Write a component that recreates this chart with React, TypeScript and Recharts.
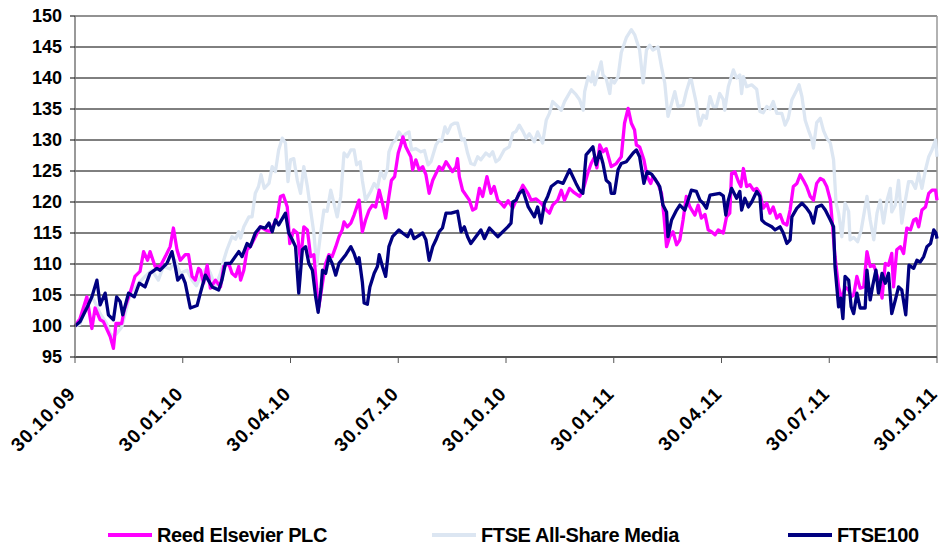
import { LineChart, Line, XAxis, YAxis, CartesianGrid, ReferenceLine } from 'recharts';

// x position is in months from 30.10.09 (0) to 30.10.11 (24)
const tickMonths = [0, 3, 6, 9, 12, 15, 18, 21, 24];
const tickLabels = ['30.10.09', '30.01.10', '30.04.10', '30.07.10', '30.10.10', '30.01.11', '30.04.11', '30.07.11', '30.10.11'];
const yTicks = [95, 100, 105, 110, 115, 120, 125, 130, 135, 140, 145, 150];

const seriesNames = ['Reed Elsevier PLC', 'FTSE All-Share Media', 'FTSE100'];
const seriesColors = ['#ff00ff', '#dce6f2', '#000080'];

const reed: [number, number][] = [
  [0, 100], [0.14, 101.2], [0.33, 104.7], [0.47, 99.6], [0.56, 102.9], [0.7, 101], [0.79, 100.7], [0.98, 98.3],
  [1.07, 96.4], [1.14, 100.4], [1.3, 100.4], [1.37, 102.6], [1.54, 105.5], [1.67, 108], [1.81, 108.8], [1.91, 112],
  [2.02, 110.6], [2.09, 112], [2.23, 109.6], [2.37, 109.6], [2.54, 111.5], [2.65, 112.8], [2.74, 115.8], [2.84, 112.3],
  [2.93, 110.6], [3.07, 111.5], [3.16, 111.5], [3.26, 108], [3.35, 107.4], [3.44, 109.3], [3.49, 109], [3.58, 106.9],
  [3.68, 109.8], [3.77, 106.1], [3.91, 107.4], [4.05, 106.3], [4.14, 109.6], [4.28, 110.1], [4.37, 108.5], [4.47, 108],
  [4.56, 109.6], [4.61, 107.4], [4.7, 109], [4.79, 112.3], [4.88, 112.8], [5.02, 114.4], [5.16, 116], [5.3, 115.5],
  [5.44, 115.2], [5.63, 117.6], [5.72, 120.9], [5.8, 121.1], [5.91, 119.2], [5.98, 113.3], [6.09, 115.5], [6.19, 115],
  [6.28, 110.4], [6.37, 116], [6.47, 115.5], [6.56, 111.2], [6.65, 111.5], [6.74, 105.3], [6.79, 103.1], [6.89, 106.9],
  [6.98, 110.1], [7.07, 111.5], [7.16, 111.2], [7.26, 112.8], [7.35, 114.4], [7.44, 115.5], [7.49, 116.8], [7.58, 116],
  [7.68, 116.6], [7.77, 117.9], [7.91, 120.3], [8.0, 115.2], [8.09, 117.1], [8.19, 118.7], [8.28, 119.5], [8.37, 119.2],
  [8.47, 121.9], [8.56, 119.8], [8.65, 117.4], [8.74, 120.9], [8.81, 123.5], [8.9, 124.1], [9.0, 127.9], [9.07, 129.2],
  [9.13, 130.5], [9.21, 128.9], [9.35, 127.3], [9.4, 125.2], [9.49, 126.8], [9.58, 125.2], [9.68, 125.7], [9.77, 124.4],
  [9.86, 121.4], [9.96, 123.5], [10.05, 124.6], [10.14, 125.7], [10.23, 125.2], [10.33, 126.5], [10.42, 125.7], [10.51, 124.9],
  [10.61, 125.7], [10.65, 127], [10.7, 124.1], [10.79, 121.9], [10.98, 120.3], [11.07, 118.7], [11.16, 119], [11.26, 122.2],
  [11.35, 120.9], [11.47, 124.1], [11.58, 121.4], [11.67, 122.5], [11.77, 120.3], [11.86, 119.8], [11.95, 119.2], [12.06, 120.2],
  [12.19, 119], [12.33, 120.9], [12.47, 122.7], [12.61, 121.4], [12.7, 120.3], [12.84, 120.5], [12.98, 119.8], [13.12, 118.7],
  [13.21, 118.2], [13.3, 119.5], [13.44, 120.3], [13.54, 121.9], [13.63, 120.3], [13.77, 122.2], [13.9, 121.5], [14.05, 120.9],
  [14.15, 122], [14.29, 124.9], [14.37, 126.2], [14.47, 127.3], [14.53, 125.5], [14.61, 129.2], [14.7, 128.1], [14.79, 128.6],
  [14.93, 125.7], [15.07, 126.2], [15.21, 127.3], [15.3, 132.7], [15.4, 135.1], [15.49, 132.7], [15.58, 131.6], [15.63, 129.2],
  [15.72, 128.9], [15.84, 126.8], [15.93, 124.1], [16.03, 123], [16.09, 124.1], [16.23, 123], [16.33, 121.4], [16.4, 117.6],
  [16.47, 112.8], [16.56, 114.4], [16.65, 115.2], [16.75, 113.1], [16.84, 113.9], [16.93, 117.1], [17.02, 120.9], [17.12, 119.2],
  [17.26, 117.9], [17.35, 119.5], [17.44, 117.4], [17.54, 118], [17.63, 115.5], [17.72, 115.2], [17.82, 114.7], [17.91, 115.5],
  [18.05, 115], [18.14, 117.6], [18.23, 118.2], [18.28, 124.6], [18.37, 124.9], [18.47, 123.3], [18.54, 122.5], [18.61, 125.4],
  [18.7, 122.5], [18.79, 122.8], [18.89, 121.9], [18.98, 122.2], [19.07, 121.4], [19.16, 119], [19.26, 119.8], [19.35, 118.2],
  [19.44, 119.2], [19.54, 117.4], [19.63, 118], [19.72, 116.6], [19.82, 116.3], [19.91, 118.7], [20.0, 122.5], [20.1, 123],
  [20.19, 124.4], [20.28, 123.5], [20.37, 122.5], [20.47, 120.9], [20.56, 120.3], [20.65, 123], [20.75, 123.8], [20.84, 123.5],
  [20.93, 122.5], [21.03, 120.3], [21.07, 117.6], [21.16, 111.2], [21.26, 106.3], [21.35, 104.2], [21.44, 106.3], [21.54, 105.8],
  [21.61, 104.7], [21.68, 105], [21.77, 108], [21.86, 106.1], [21.96, 106.3], [22.05, 112], [22.14, 109.6], [22.24, 109.8],
  [22.33, 108.2], [22.42, 106.3], [22.47, 104.5], [22.56, 110.1], [22.65, 109.8], [22.74, 111.7], [22.79, 106.3], [22.88, 112.3],
  [22.98, 112.8], [23.07, 111.7], [23.16, 115.8], [23.26, 115.5], [23.35, 117.1], [23.42, 117.3], [23.49, 116], [23.58, 118.7],
  [23.68, 119.2], [23.77, 121.4], [23.86, 121.9], [23.96, 121.9], [24, 120.3],
];

const media: [number, number][] = [
  [0, 100], [0.14, 100.3], [0.33, 103.7], [0.47, 104.7], [0.56, 103.8], [0.7, 102], [0.88, 100.4], [0.98, 98.8],
  [1.07, 98.3], [1.16, 98.8], [1.3, 99.8], [1.4, 102], [1.54, 105.3], [1.77, 106.9], [1.95, 108], [2.14, 109],
  [2.32, 107.4], [2.46, 109.6], [2.65, 109.2], [2.79, 110.6], [2.93, 108.5], [3.12, 109], [3.26, 107.4], [3.38, 106.5],
  [3.54, 108.5], [3.68, 109.5], [3.77, 108.5], [3.91, 106.3], [4.05, 108.5], [4.14, 110.6], [4.23, 112.3], [4.37, 114.4],
  [4.47, 114], [4.56, 115.2], [4.61, 114.2], [4.7, 116], [4.84, 117.6], [4.93, 117.6], [5.02, 121.4], [5.11, 122.5],
  [5.18, 124.4], [5.27, 122.2], [5.4, 123], [5.49, 125.7], [5.58, 124.9], [5.67, 128.4], [5.77, 130.3], [5.86, 129.5],
  [5.93, 123.3], [6.0, 126.8], [6.09, 127], [6.19, 123.5], [6.28, 121.4], [6.37, 125.7], [6.47, 122.5], [6.56, 118.7],
  [6.65, 115], [6.73, 109.8], [6.84, 115], [6.93, 118.7], [7.02, 118.5], [7.12, 121.9], [7.21, 119.8], [7.3, 117.6],
  [7.4, 120.9], [7.49, 127.9], [7.58, 127.3], [7.68, 128.4], [7.77, 128.4], [7.84, 126], [7.94, 126.5], [8.0, 123.5],
  [8.09, 120.3], [8.23, 121.7], [8.33, 123], [8.42, 122.2], [8.51, 124.9], [8.61, 123.8], [8.7, 125.4], [8.74, 128.1],
  [8.84, 129.5], [8.93, 130], [9.02, 131.3], [9.12, 130.5], [9.21, 131], [9.3, 131.3], [9.37, 128.4], [9.49, 128.6],
  [9.63, 128.1], [9.73, 128.3], [9.83, 126], [9.91, 126.5], [10.05, 129.2], [10.14, 130], [10.21, 129.8], [10.3, 132.1],
  [10.37, 131.1], [10.47, 132.4], [10.56, 132.7], [10.65, 132.7], [10.77, 130], [10.84, 130.2], [10.93, 127.9], [11.02, 126.2],
  [11.12, 126], [11.21, 127.3], [11.3, 126.8], [11.44, 127.9], [11.54, 127.4], [11.63, 128.1], [11.72, 126.5], [11.81, 126.9],
  [11.95, 128.4], [12.09, 128.9], [12.19, 131.1], [12.28, 131.4], [12.37, 132.4], [12.47, 131.4], [12.56, 130.3], [12.65, 131],
  [12.79, 129.7], [12.88, 131.3], [13.02, 129.5], [13.12, 133.2], [13.21, 134.3], [13.3, 136.2], [13.44, 135.4], [13.54, 134.8],
  [13.63, 136.2], [13.82, 138.1], [13.95, 137.3], [14.05, 136.5], [14.15, 134.8], [14.19, 137.8], [14.29, 140.2], [14.37, 139.4],
  [14.42, 141], [14.47, 138.9], [14.56, 140.7], [14.65, 142.6], [14.7, 140.5], [14.79, 139.9], [14.89, 137.5], [14.93, 139.7],
  [15.02, 139.2], [15.12, 140.2], [15.21, 144.1], [15.35, 146.5], [15.49, 147.8], [15.58, 147], [15.72, 144.5], [15.82, 139.2],
  [15.91, 144.5], [16.0, 145.3], [16.09, 144.5], [16.23, 145], [16.33, 141.8], [16.42, 139.2], [16.51, 133.8], [16.61, 135.9],
  [16.7, 137.8], [16.79, 135.4], [16.93, 135.6], [17.02, 137.8], [17.12, 139.7], [17.16, 139.7], [17.21, 138.3], [17.3, 135.9],
  [17.35, 133.8], [17.4, 132.4], [17.49, 134], [17.58, 133.5], [17.68, 137], [17.77, 135.4], [17.86, 135.4], [17.95, 137.5],
  [18.05, 136.5], [18.09, 134.8], [18.19, 138.6], [18.33, 141.3], [18.42, 140], [18.51, 140.5], [18.56, 137.5], [18.61, 140.2],
  [18.7, 138.6], [18.84, 138.9], [18.98, 138.2], [19.07, 134.6], [19.16, 134.4], [19.26, 135.4], [19.35, 135], [19.44, 136.2],
  [19.54, 134.3], [19.68, 134.3], [19.77, 132.4], [19.86, 133.5], [19.96, 136.5], [20.1, 138.1], [20.16, 138.9], [20.24, 137],
  [20.33, 133.2], [20.42, 131.6], [20.51, 130.2], [20.56, 128.7], [20.65, 132.8], [20.75, 133.5], [20.84, 131.5], [20.93, 130.3],
  [21.03, 129.5], [21.12, 126.8], [21.19, 119.8], [21.26, 118.2], [21.35, 114.4], [21.44, 119.8], [21.54, 118.5], [21.58, 113.9],
  [21.68, 114.3], [21.79, 113.6], [21.89, 115.5], [22.05, 120.9], [22.14, 117.1], [22.24, 113.9], [22.33, 118.2], [22.42, 120.3],
  [22.51, 116.6], [22.61, 120.3], [22.7, 122.2], [22.74, 118.4], [22.84, 119.5], [22.93, 123.5], [23.02, 116.6], [23.12, 120.3],
  [23.21, 123.3], [23.3, 123.3], [23.4, 122.2], [23.49, 124.6], [23.58, 122.2], [23.68, 125.2], [23.77, 127.3], [23.86, 128.4],
  [23.96, 130], [24, 127.3],
];

const ftse100: [number, number][] = [
  [0, 100], [0.14, 100.7], [0.37, 103.4], [0.47, 104.7], [0.61, 107.4], [0.7, 103.4], [0.84, 105.3], [0.93, 101.8],
  [1.07, 101], [1.16, 104.7], [1.26, 103.9], [1.33, 101.8], [1.49, 105.3], [1.65, 104.7], [1.79, 106.9], [1.95, 106.3],
  [2.09, 108.5], [2.28, 109.3], [2.37, 109], [2.56, 110.1], [2.7, 112], [2.79, 109.6], [2.86, 107.4], [2.98, 108.2],
  [3.07, 106.9], [3.21, 102.9], [3.4, 103.3], [3.49, 105.3], [3.63, 108.2], [3.82, 106.3], [4.0, 105.8], [4.09, 107.4],
  [4.19, 110.1], [4.33, 110.1], [4.56, 112], [4.65, 111.2], [4.79, 113.3], [4.88, 112.8], [5.02, 115], [5.16, 116],
  [5.3, 115.8], [5.4, 116.6], [5.49, 115.2], [5.58, 117.1], [5.67, 116.3], [5.86, 118.2], [5.95, 115], [6.05, 113.9],
  [6.14, 112.8], [6.23, 105.3], [6.33, 112.3], [6.42, 112.8], [6.51, 110.1], [6.61, 109], [6.7, 104.7], [6.77, 102.2],
  [6.85, 106], [6.89, 109], [6.98, 108.5], [7.07, 111.2], [7.16, 110.1], [7.26, 108.2], [7.35, 110.1], [7.54, 111.5],
  [7.68, 112.8], [7.77, 111.7], [7.86, 110.1], [7.91, 111], [8.0, 107.1], [8.05, 103.7], [8.14, 103.5], [8.21, 106.3],
  [8.33, 108.5], [8.42, 109.6], [8.47, 111.5], [8.56, 109.6], [8.65, 108], [8.74, 112.8], [8.84, 114.4], [9.02, 115.5],
  [9.12, 115], [9.26, 114.4], [9.35, 115.5], [9.44, 114.1], [9.68, 115], [9.77, 113.9], [9.86, 110.6], [9.96, 112.8],
  [10.05, 113.9], [10.14, 115.2], [10.23, 115.8], [10.33, 118.2], [10.47, 118.2], [10.65, 118.5], [10.75, 115.2], [10.84, 116],
  [10.93, 114.4], [11.02, 113.3], [11.16, 114.4], [11.3, 115.5], [11.4, 114.1], [11.54, 115.8], [11.77, 114.4], [12.05, 116],
  [12.14, 116.6], [12.19, 120], [12.28, 120.3], [12.37, 121.4], [12.47, 121.9], [12.56, 120.3], [12.62, 119.2], [12.79, 117.6],
  [12.88, 119.2], [12.98, 116.6], [13.07, 119.8], [13.16, 120.9], [13.26, 122.5], [13.44, 123.3], [13.59, 123], [13.77, 125.2],
  [13.95, 123], [14.05, 121.9], [14.14, 121.4], [14.23, 127.6], [14.42, 128.9], [14.51, 126], [14.61, 128.1], [14.7, 126.2],
  [14.79, 123.5], [14.89, 123], [14.93, 121.4], [15.02, 121.4], [15.12, 125.2], [15.21, 126.2], [15.35, 126.5], [15.54, 127.9],
  [15.63, 128.4], [15.72, 127.3], [15.84, 123], [15.93, 124.9], [16.05, 124.5], [16.14, 123.8], [16.28, 122.5], [16.37, 119.5],
  [16.47, 118.4], [16.51, 114.4], [16.61, 117.1], [16.75, 118.7], [16.84, 119.5], [16.98, 118.7], [17.07, 120.3], [17.16, 121.9],
  [17.3, 121.7], [17.4, 120.3], [17.49, 119.8], [17.58, 119], [17.68, 121.1], [17.95, 121.4], [18.05, 121], [18.12, 117.9],
  [18.19, 120.3], [18.28, 122.2], [18.42, 120.6], [18.51, 121.7], [18.56, 118.7], [18.65, 120.6], [18.75, 119.2], [18.84, 120],
  [18.98, 121.7], [19.07, 120.9], [19.12, 117.1], [19.21, 116.6], [19.4, 116], [19.49, 115.5], [19.63, 116], [19.72, 115],
  [19.82, 113.3], [19.91, 113.9], [19.96, 117.6], [20.1, 119], [20.24, 119.8], [20.37, 119], [20.47, 118.2], [20.56, 116.6],
  [20.65, 119.2], [20.79, 119.5], [20.89, 118.7], [21.03, 117.1], [21.12, 116], [21.16, 109.6], [21.26, 103.1], [21.32, 104.5],
  [21.38, 101.2], [21.44, 108], [21.54, 107.4], [21.61, 103.1], [21.68, 102], [21.77, 105.3], [21.86, 102.9], [22.0, 102.9],
  [22.05, 109], [22.14, 104.2], [22.21, 106.5], [22.3, 109], [22.37, 105.3], [22.47, 108.5], [22.56, 106.9], [22.65, 108.5],
  [22.74, 102], [22.84, 104.2], [22.93, 106.3], [23.02, 105.8], [23.13, 101.8], [23.22, 109.8], [23.35, 109.3], [23.44, 110.6],
  [23.53, 110.3], [23.63, 111.2], [23.72, 112.8], [23.82, 113.3], [23.91, 115.5], [23.97, 115], [24, 114.1],
];

const toRows = (pts: [number, number][]) => pts.map(([t, v]) => ({ t, v }));

const FONT = '"Liberation Sans", Arial, sans-serif';

function XTick({ x, y, payload }: any) {
  const i = tickMonths.indexOf(payload.value);
  return (
    <g transform={`translate(${x - 3},${y + 25})`}>
      <text
        transform="rotate(-45)"
        textAnchor="end"
        dy="0.35em"
        fontFamily={FONT}
        fontWeight="bold"
        fontSize={19}
        letterSpacing={1}
        fill="#000"
      >
        {tickLabels[i]}
      </text>
    </g>
  );
}

// legend positions
const legendX = [108, 432, 788];

export default function App() {
  const lines = [
    { key: 'media', data: media, idx: 1 },
    { key: 'reed', data: reed, idx: 0 },
    { key: 'ftse', data: ftse100, idx: 2 },
  ];
  return (
    <div style={{ position: 'absolute', left: 0, top: 0, width: 944, height: 549, background: '#fff' }}>
      <LineChart width={944} height={549} margin={{ top: 16, right: 7, left: 0, bottom: 0 }}>
        <CartesianGrid vertical={false} stroke="#000" strokeWidth={1} />
        <XAxis
          dataKey="t"
          type="number"
          domain={[0, 24]}
          ticks={tickMonths}
          interval={0}
          height={192}
          tickSize={6}
          tick={<XTick />}
          axisLine={{ stroke: '#555', strokeWidth: 2 }}
          tickLine={{ stroke: '#555' }}
        />
        <YAxis
          type="number"
          domain={[95, 150]}
          ticks={yTicks}
          interval={0}
          width={75}
          tickSize={5}
          tickMargin={8}
          axisLine={{ stroke: '#777', strokeWidth: 1.5 }}
          tickLine={{ stroke: '#000' }}
          tick={{ fontFamily: FONT, fontWeight: 'bold', fontSize: 18, fill: '#000' }}
        />
        <ReferenceLine y={150} stroke="#999" strokeWidth={1.5} />
        <ReferenceLine x={24} stroke="#999" strokeWidth={1.5} />
        {lines.map((l) => (
          <Line
            key={l.key}
            data={toRows(l.data)}
            dataKey="v"
            name={seriesNames[l.idx]}
            type="linear"
            stroke={seriesColors[l.idx]}
            strokeWidth={3.3}
            strokeLinejoin="round"
            dot={false}
            activeDot={false}
            isAnimationActive={false}
          />
        ))}
      </LineChart>
      <svg width={944} height={549} style={{ position: 'absolute', left: 0, top: 0, pointerEvents: 'none' }}>
        {seriesNames.map((name, i) => (
          <g key={name}>
            <line x1={legendX[i]} x2={legendX[i] + 44} y1={535} y2={535} stroke={seriesColors[i]} strokeWidth={4} />
            <text
              x={legendX[i] + 49}
              y={542}
              fontFamily={FONT}
              fontWeight="bold"
              fontSize={20}
              letterSpacing={-0.4}
              fill="#000"
            >
              {name}
            </text>
          </g>
        ))}
      </svg>
    </div>
  );
}
